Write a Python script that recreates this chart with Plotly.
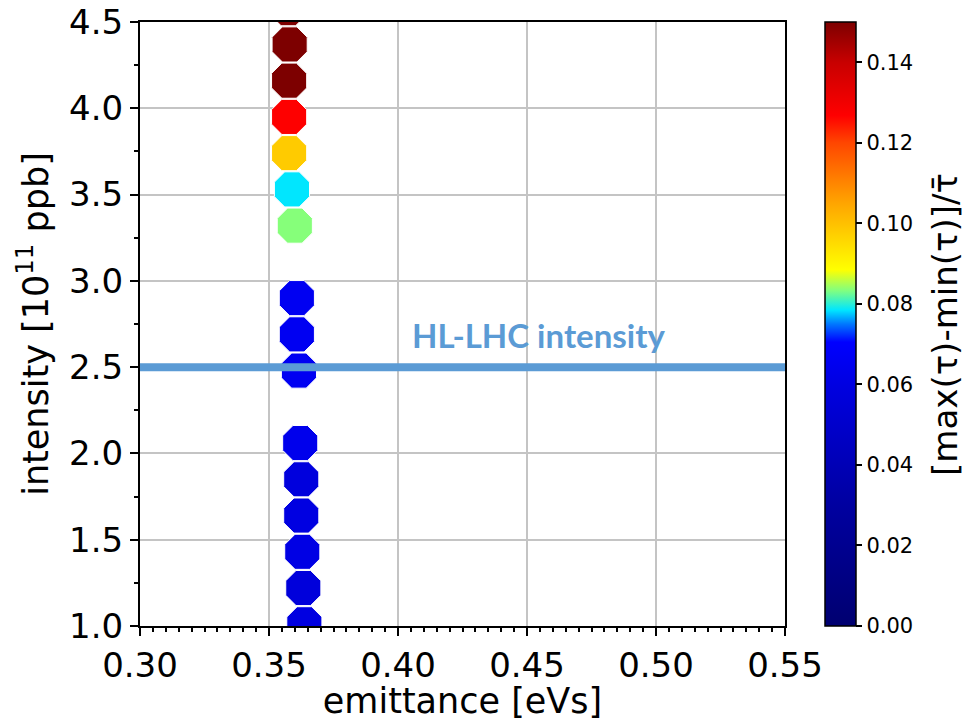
import plotly.graph_objects as go

# Bunch intensity scan: emittance, intensity and relative spread of bunch length
emittance = [0.3575, 0.3580, 0.3578, 0.3578, 0.3578, 0.3589, 0.3600, 0.3608,
             0.3608, 0.3616, 0.3621, 0.3625, 0.3625, 0.3629, 0.3633, 0.3637]
intensity = [4.58, 4.37, 4.16, 3.95, 3.74, 3.53, 3.32, 2.90,
             2.69, 2.48, 2.06, 1.85, 1.64, 1.43, 1.22, 1.01]
tau_spread = [0.152, 0.150, 0.150, 0.127, 0.098, 0.0785, 0.0835, 0.066,
              0.066, 0.066, 0.064, 0.058, 0.060, 0.061, 0.057, 0.060]

HL_LHC_INTENSITY = 2.5
x_range = [0.30, 0.55]
y_range = [1.0, 4.5]
c_range = [0.0, 0.15]

# jet-like colour scale with stretched dark-blue part
colorscale = [
    [0.000, "rgb(0,0,112)"],
    [0.200, "rgb(0,0,160)"],
    [0.400, "rgb(0,0,225)"],
    [0.470, "rgb(0,0,255)"],
    [0.500, "rgb(0,120,255)"],
    [0.523, "rgb(0,230,255)"],
    [0.555, "rgb(128,255,128)"],
    [0.590, "rgb(255,255,0)"],
    [0.700, "rgb(255,165,0)"],
    [0.800, "rgb(255,70,0)"],
    [0.845, "rgb(255,0,0)"],
    [0.933, "rgb(200,0,0)"],
    [1.000, "rgb(125,0,0)"],
]

FONT = "DejaVu Sans"

fig = go.Figure()
fig.add_trace(go.Scatter(
    x=emittance, y=intensity, mode="markers",
    marker=dict(
        symbol="octagon", size=38,
        color=tau_spread, cmin=c_range[0], cmax=c_range[1],
        colorscale=colorscale,
        line=dict(color="white", width=1),
        colorbar=dict(
            x=1.062, xanchor="left", xpad=0,
            y=0.5, yanchor="middle", len=1.0, lenmode="fraction",
            ypad=0,
            thickness=31, thicknessmode="pixels",
            outlinewidth=1.5, outlinecolor="black",
            ticks="outside", ticklen=6, tickwidth=1.5, tickcolor="black",
            tickvals=[0.0, 0.02, 0.04, 0.06, 0.08, 0.10, 0.12, 0.14],
            tickformat=".2f",
            tickfont=dict(family=FONT, size=21, color="black"),
        ),
    ),
    cliponaxis=True,
    showlegend=False,
))

# HL-LHC reference intensity
fig.add_shape(type="line", xref="x", yref="y",
              x0=x_range[0], x1=x_range[1],
              y0=HL_LHC_INTENSITY, y1=HL_LHC_INTENSITY,
              line=dict(color="#5B9BD5", width=8), layer="above")
fig.add_annotation(x=0.4545, y=HL_LHC_INTENSITY, xref="x", yref="y",
                   text="<b>HL-LHC intensity</b>", showarrow=False,
                   yanchor="bottom", yshift=10,
                   font=dict(family="Lato", size=33, color="#5B9BD5"))

# colour bar label
fig.add_annotation(x=1.248, y=0.5, xref="paper", yref="paper",
                   text="[max(τ)-min(τ)]/τ\u0304", textangle=-90,
                   showarrow=False, xanchor="center", yanchor="middle",
                   font=dict(family=FONT, size=34, color="black"))

axis_common = dict(
    showline=True, linewidth=2, linecolor="black", mirror=True,
    showgrid=True, gridcolor="#c4c4c4", gridwidth=2,
    ticks="outside", ticklen=8, tickwidth=2, tickcolor="black",
    tickfont=dict(family=FONT, size=34, color="black"),
    zeroline=False, automargin=False,
)

fig.update_xaxes(
    range=x_range, dtick=0.05, tickformat=".2f",
    title=dict(text="emittance [eVs]", standoff=8,
               font=dict(family=FONT, size=35, color="black")),
    minor=dict(dtick=0.005, ticks="outside", ticklen=4, tickwidth=1.5,
               tickcolor="black", showgrid=False),
    **axis_common,
)
fig.update_yaxes(
    range=y_range, dtick=0.5, tickformat=".1f",
    title=dict(text="intensity [10<sup>11</sup> ppb]", standoff=10,
               font=dict(family=FONT, size=35, color="black")),
    minor=dict(dtick=0.25, ticks="outside", ticklen=4, tickwidth=1.5,
               tickcolor="black", showgrid=False),
    **axis_common,
)

fig.update_layout(
    width=970, height=721,
    margin=dict(l=140, r=185, t=22, b=95, pad=0, autoexpand=False),
    paper_bgcolor="white", plot_bgcolor="white",
    font=dict(family=FONT, color="black"),
)

fig.write_html("out.html")
